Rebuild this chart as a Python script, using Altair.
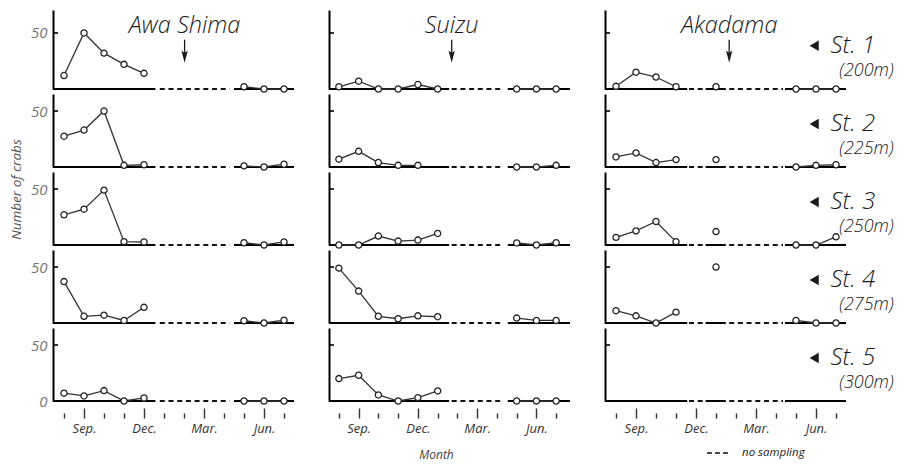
import altair as alt
import pandas as pd

# ---------------- data ----------------
months = ["Aug", "Sep", "Oct", "Nov", "Dec", "Jan", "Feb", "Mar", "Apr", "May", "Jun", "Jul"]
tick_labels = {1: "Sep.", 4: "Dec.", 7: "Mar.", 10: "Jun."}
sites = ["Awa Shima", "Suizu", "Akadama"]
stations = ["St. 1", "St. 2", "St. 3", "St. 4", "St. 5"]
depths = ["(200m)", "(225m)", "(250m)", "(275m)", "(300m)"]

N = None
awa_shima = [
    [12, 50, 32, 22, 14, N, N, N, N, 2, 0, 0],
    [27.5, 33, 50, 1.5, 2, N, N, N, N, 1, 0, 2.5],
    [27, 32, 49, 3, 2.7, N, N, N, N, 2, 0, 2.7],
    [37, 6, 7, 2.3, 14, N, N, N, N, 2, 0, 2.5],
    [7, 4.5, 9.3, 0, 2.7, N, N, N, N, 0, 0, 0],
]
suizu = [
    [2, 7, 0, 0, 4, 0, N, N, N, 0, 0, 0],
    [7, 14, 4, 1.5, 1.5, N, N, N, N, 0, 0, 1.5],
    [0, 0, 8, 3.5, 4.4, 10.3, N, N, N, 1.8, 0, 2],
    [49, 28.5, 6, 3.8, 6.4, 5.6, N, N, N, 4.4, 2.3, 2.3],
    [20, 23, 5.4, 0, 3, 9, N, N, N, 0, 0, 0],
]
akadama = [
    [2.4, 15, 10.7, 2, N, 2, N, N, N, 0, 0, 0],
    [9, 12.6, 4, 6.6, N, 6.6, N, N, N, 0, 1.5, 2],
    [6.8, 12.6, 21, 3, N, 12, N, N, N, 0, 0, 7.3],
    [11, 6.4, 0, 9.7, N, 50, N, N, N, 2.3, 0, 0],
    [N] * 12,
]
site_values = [awa_shima, suizu, akadama]

# sampled (solid) and not sampled (dashed) stretches of the month axis
sampled = [
    [(-0.55, 4.57), (8.5, 11.5)],
    [(-0.5, 5.58), (8.55, 11.7)],
    [(-0.55, 3.56), (4.48, 5.49), (8.45, 11.5)],
]
not_sampled = [
    [(4.79, 8.28)],
    [(5.71, 8.3)],
    [(3.65, 4.4), (5.66, 8.35)],
]
arrow_month = [6.03, 5.71, 5.66]

# ---------------- layout / style ----------------
x_domains = [[-0.55, 11.5], [-0.5, 11.7], [-0.55, 11.5]]
W = 241
FONT = "Open Sans"
INK = "#1a1a1a"

label_expr = " : ".join(f"datum.value == {k} ? '{v}'" for k, v in tick_labels.items()) + " : ''"
major = "[" + ",".join(str(k) for k in tick_labels) + "]"


def panel(si, ri):
    vals = site_values[si][ri]
    ymax = 70.5 if ri == 0 else 65.2
    h = 79 if ri == 0 else 73
    last = ri == 4

    rows, seg, prev = [], 0, None
    for m, v in enumerate(vals):
        if v is None:
            prev = None
            continue
        if prev is None:
            seg += 1
        rows.append({"x": m, "y": v, "seg": seg})
        prev = v
    pts = pd.DataFrame(rows, columns=["x", "y", "seg"])

    xscale = alt.Scale(domain=x_domains[si], nice=False, zero=False)
    yscale = alt.Scale(domain=[0, ymax], nice=False, zero=False)

    if last:
        xaxis_kw = dict(
            values=list(range(12)), labelExpr=label_expr, labelOverlap=False, domain=False,
            grid=False, offset=7, tickSize=10, tickWidth=1.4, tickColor="#333",
            tickDash={"condition": {"test": f"indexof({major}, datum.value) >= 0", "value": [1, 0]},
                      "value": [0, 5, 5]},
            labelFont=FONT, labelFontStyle="italic", labelFontSize=13, labelColor="#333",
            labelPadding=4, title=None,
        )
        if si == 1:
            xaxis_kw.update(title="Month", titleFont=FONT, titleFontStyle="italic",
                            titleFontWeight="normal", titleFontSize=12, titleColor="#444",
                            titlePadding=14, titleX=107)
        xaxis = alt.Axis(**xaxis_kw)
    else:
        xaxis = None

    yaxis_kw = dict(values=[0, 50] if last else [50], ticks=False, grid=False,
                    domain=True, domainColor="#000", domainWidth=2,
                    labels=(si == 0), labelFont=FONT, labelFontStyle="italic",
                    labelFontSize=15, labelColor="#777", labelPadding=6, title=None)
    if si == 0 and ri == 2:
        yaxis_kw.update(title="Number of crabs", titleFont=FONT, titleFontStyle="italic",
                        titleFontWeight="normal", titleFontSize=13.5, titleColor="#555",
                        titleAngle=270, titleAlign="center", titleBaseline="middle",
                        titleX=-37, titleY=17)
    yaxis = alt.Axis(**yaxis_kw)

    def X(field):
        return alt.X(field, type="quantitative", scale=xscale, axis=xaxis)

    def Y(field):
        return alt.Y(field, type="quantitative", scale=yscale, axis=yaxis)

    solid_df = pd.DataFrame(sampled[si], columns=["x", "x2"])
    dash_df = pd.DataFrame(not_sampled[si], columns=["x", "x2"])

    base_solid = alt.Chart(solid_df).mark_rule(color="#000", strokeWidth=2).encode(
        x=X("x"), x2="x2:Q",
        y=alt.YDatum(0, type="quantitative", scale=yscale, axis=yaxis),
    )
    base_dash = alt.Chart(dash_df).mark_rule(color="#111", strokeWidth=1.8, strokeDash=[5, 3.7]).encode(
        x=X("x"), x2="x2:Q", y=alt.YDatum(0, type="quantitative", scale=yscale, axis=yaxis)
    )
    ytick = alt.Chart(pd.DataFrame({"y": [50]})).mark_rule(color="#000", strokeWidth=1.6).encode(
        x=alt.value(0), x2=alt.value(5), y=Y("y")
    )
    line = alt.Chart(pts).mark_line(color="#333", strokeWidth=1.3).encode(
        x=X("x"), y=Y("y"), detail="seg:N"
    )
    point = alt.Chart(pts).mark_point(shape="circle", fill="white", stroke="#222",
                                      strokeWidth=1.3, size=38, opacity=1, filled=False).encode(
        x=X("x"), y=Y("y")
    )
    layers = [base_solid, base_dash, ytick, line, point]

    if ri == 0:
        tdf = pd.DataFrame({"x": [arrow_month[si]], "label": [sites[si]],
                            "y": [44], "y2": [29.7], "yt": [50]})
        layers.append(alt.Chart(tdf).mark_text(font=FONT, fontStyle="italic", fontWeight=300,
                                               fontSize=23.5, color=INK, align="center",
                                               baseline="alphabetic").encode(
            x=X("x"), y=Y("yt"), text="label:N"))
        layers.append(alt.Chart(tdf).mark_rule(color=INK, strokeWidth=1.3).encode(
            x=X("x"), y=Y("y"), y2="y2:Q"))
        layers.append(alt.Chart(tdf).mark_point(
            shape="M0,1L-0.45,-0.75L0,-0.4L0.45,-0.75Z", fill=INK, filled=True, stroke=None,
            size=200, opacity=1).encode(x=X("x"), y=Y("y2")))

    if si == 2:
        sdf = pd.DataFrame({"x": [10.73], "xt": [9.91], "xd": [11.16],
                            "y": [38.5], "yd": [16.5],
                            "st": [stations[ri]], "dp": [depths[ri]]})
        layers.append(alt.Chart(sdf).mark_point(shape="triangle-left", fill=INK, filled=True,
                                                stroke=None, size=110, opacity=1).encode(
            x=X("xt"), y=Y("y")))
        layers.append(alt.Chart(sdf).mark_text(font=FONT, fontStyle="italic", fontWeight=300,
                                               fontSize=24, color=INK, align="left",
                                               baseline="middle").encode(
            x=X("x"), y=Y("y"), text="st:N"))
        layers.append(alt.Chart(sdf).mark_text(font=FONT, fontStyle="italic", fontWeight=300,
                                               fontSize=18, color=INK, align="left",
                                               baseline="middle").encode(
            x=X("xd"), y=Y("yd"), text="dp:N"))
        if last:
            ldf = pd.DataFrame({"label": ["no sampling"]})
            layers.append(alt.Chart(ldf).mark_rule(color="#111", strokeWidth=1.6,
                                                   strokeDash=[5, 3]).encode(
                x=alt.value(102), x2=alt.value(124), y=alt.value(125)))
            layers.append(alt.Chart(ldf).mark_text(font=FONT, fontStyle="italic", fontSize=11.5,
                                                   color="#222", align="left",
                                                   baseline="middle").encode(
                x=alt.value(137), y=alt.value(125), text="label:N"))

    return alt.layer(*layers).properties(width=W, height=h)


panels = [panel(si, ri) for ri in range(5) for si in range(3)]
chart = alt.concat(*panels, columns=3, spacing={"row": 5, "column": 35}, bounds="flush").properties(
    padding={"left": 0, "top": 2, "right": 0, "bottom": 30}
).configure_view(stroke=None).configure_axis(grid=False, labelOverlap=False)

chart.save("out.html", embed_options={"renderer": "svg", "actions": False})
